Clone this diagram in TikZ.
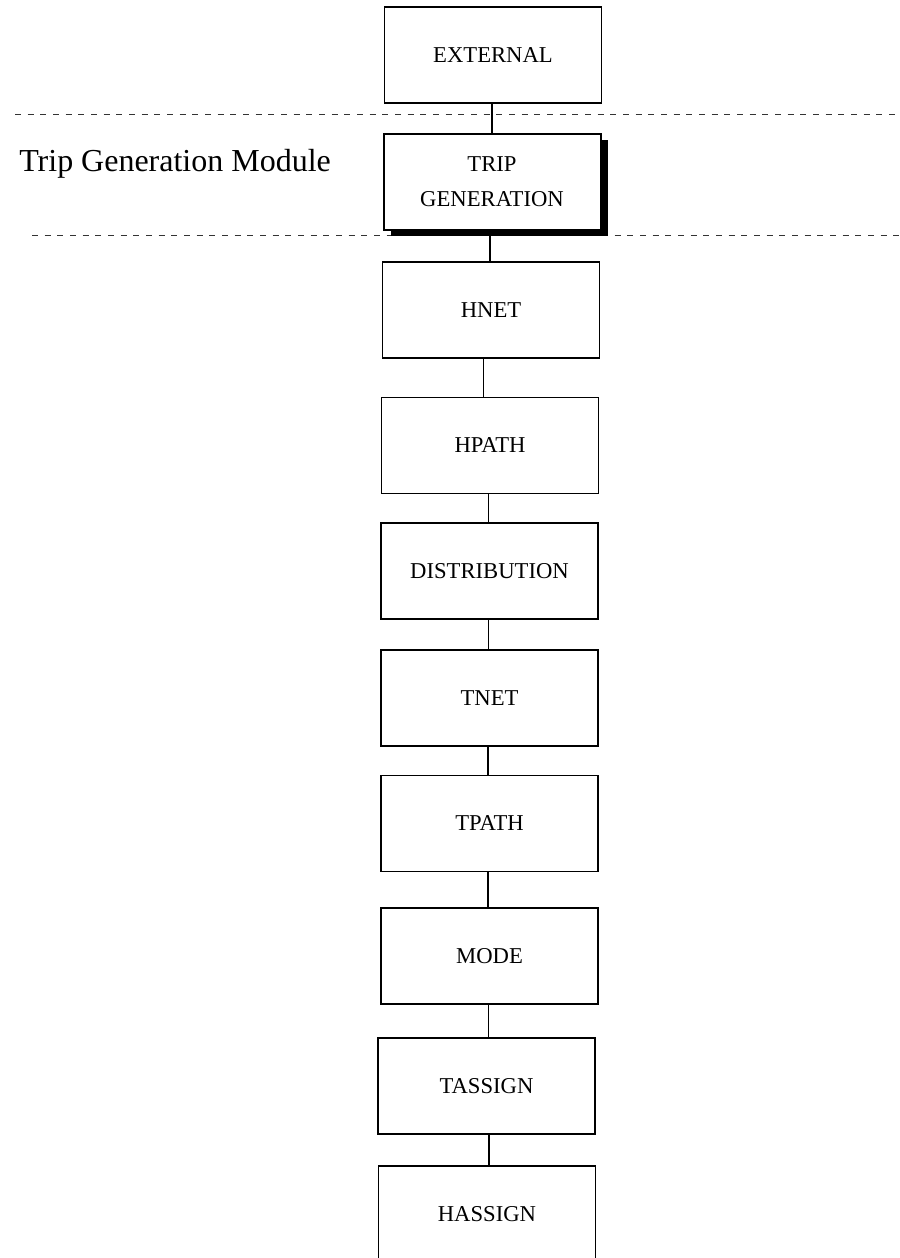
\documentclass[tikz,border=0pt]{standalone}
\usepackage{fontspec}
\setmainfont{Liberation Serif}
\usetikzlibrary{shadows}

\begin{document}
\begin{tikzpicture}[
  x=0.75pt, y=-0.75pt,
  stagebox/.style={draw, line width=0.95pt, fill=white, inner sep=0pt,
    minimum width=162.75pt, minimum height=72pt,
    font=\fontsize{17}{26}\selectfont, align=center},
  modulebox/.style={stagebox, line width=1.5pt,
    drop shadow={shadow xshift=5.5pt, shadow yshift=-5pt, fill=black, opacity=1}},
  link/.style={line width=0.8pt},
  divider/.style={line width=0.7pt, black!80, dash pattern=on 4.5pt off 5pt}
]
\useasboundingbox (0,0) rectangle (900,1258);
\clip (0,0) rectangle (900,1258);

% module boundary lines
\coordinate (d1w) at (15,114);
\coordinate (d1e) at (900,114);
\coordinate (d2w) at (32,235);
\coordinate (d2e) at (900,235);
\draw[divider] (d1w) -- (d1e);
\draw[divider] (d2w) -- (d2e);

% stages of the model
\node[stagebox] (external) at (493,55) {EXTERNAL};
\node[modulebox] (tripgen) at (492,181.5) {TRIP\\GENERATION};
\node[stagebox] (hnet) at (491,310) {HNET};
\node[stagebox] (hpath) at (490,445.5) {HPATH};
\node[stagebox] (distribution) at (489.5,571) {DISTRIBUTION};
\node[stagebox] (tnet) at (489.5,698) {TNET};
\node[stagebox] (tpath) at (489.5,823.5) {TPATH};
\node[stagebox] (mode) at (489.5,956) {MODE};
\node[stagebox] (tassign) at (486.5,1086) {TASSIGN};
\node[stagebox] (hassign) at (487,1214) {HASSIGN};

% module caption
\node[anchor=base west, inner sep=0pt, font=\fontsize{24}{28}\selectfont]
  (modlabel) at (19,171) {Trip Generation Module};

% connector columns
\coordinate (c1) at (492,0);
\coordinate (c2) at (490,0);
\coordinate (c3) at (483,0);
\coordinate (c4) at (488,0);
\coordinate (c5) at (488,0);
\coordinate (c6) at (488,0);
\coordinate (c7) at (488,0);
\coordinate (c8) at (488,0);
\coordinate (c9) at (489,0);

\draw[link] (external.south -| c1) -- (tripgen.north -| c1);
\draw[link] (tripgen.south -| c2) -- (hnet.north -| c2);
\draw[link, line width=0.6pt] (hnet.south -| c3) -- (hpath.north -| c3);
\draw[link, line width=0.6pt] (hpath.south -| c4) -- (distribution.north -| c4);
\draw[link, line width=0.6pt] (distribution.south -| c5) -- (tnet.north -| c5);
\draw[link, line width=1pt] (tnet.south -| c6) -- (tpath.north -| c6);
\draw[link, line width=1pt] (tpath.south -| c7) -- (mode.north -| c7);
\draw[link, line width=0.6pt] (mode.south -| c8) -- (tassign.north -| c8);
\draw[link, line width=1pt] (tassign.south -| c9) -- (hassign.north -| c9);
\end{tikzpicture}
\end{document}
